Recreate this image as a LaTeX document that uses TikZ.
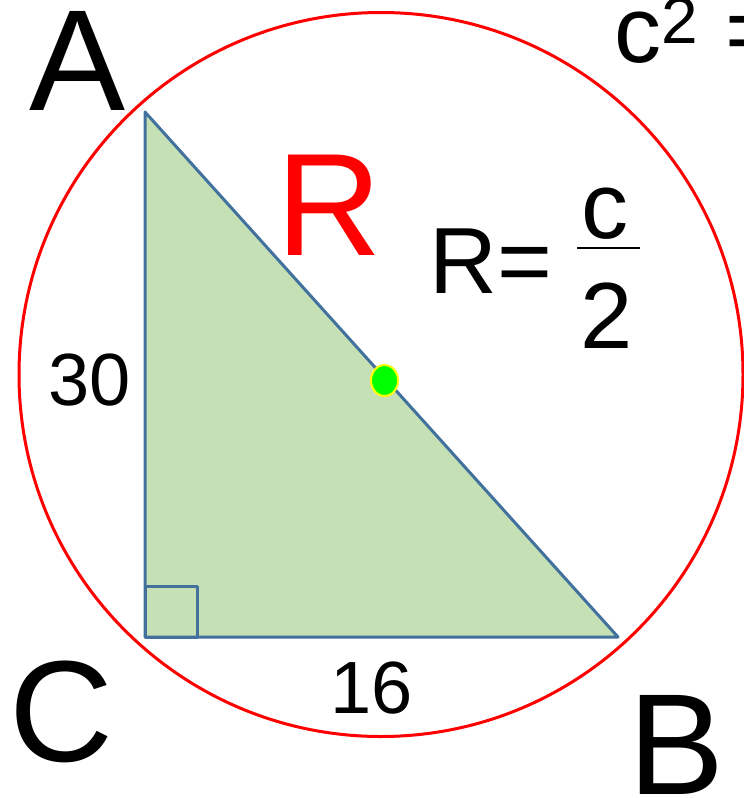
\documentclass[tikz,border=0pt]{standalone}
\usepackage{fontspec}
\setmainfont{Liberation Sans}
\usepackage{xcolor}
\usetikzlibrary{positioning}
\definecolor{circlered}{HTML}{FF0000}
\definecolor{triblue}{HTML}{41719C}
\definecolor{trigreen}{HTML}{C5E0B4}
\definecolor{dotgreen}{HTML}{00FF00}
\definecolor{dotyellow}{HTML}{FFFF00}

\begin{document}
\begin{tikzpicture}[
    x=0.5pt, y=-0.5pt,
    vertex/.style={inner sep=0pt, font=\fontsize{72}{72}\selectfont},
    sidelabel/.style={inner sep=0pt, font=\fontsize{37}{37}\selectfont},
    formula/.style={inner sep=0pt, font=\fontsize{47}{47}\selectfont},
    edge/.style={draw=triblue, line width=1.5pt, line join=round}
]
\useasboundingbox (0,0) rectangle (744,798);

% circumcircle
\coordinate (center) at (381,374.5);
\draw[circlered, line width=1.5pt] (center) circle[radius=362];

% right triangle
\coordinate (ptA) at (145,112);
\coordinate (ptC) at (145,637);
\coordinate (ptB) at (618,637);
\filldraw[edge, fill=trigreen] (ptA) -- (ptB) -- (ptC) -- cycle;
\draw[edge] (145,586) rectangle (197,637);

% midpoint of the hypotenuse
\filldraw[fill=dotgreen, draw=dotyellow, line width=1pt] (384.5,380.5) ellipse[x radius=13.5, y radius=15.5];

% labels
\node[vertex] (lblA) at (78,61) {A};
\node[vertex] (lblC) at (61,712) {C};
\node[vertex] (lblB) at (677,745) {B};
\node[vertex, text=circlered, font=\fontsize{73}{73}\selectfont] (lblR) at (329,205) {R};
\node[sidelabel] (side30) at (90,380) {30};
\node[sidelabel] (side16) at (372,688) {16};

% R = c/2
\node[formula] (req) at (491,261) {R=};
\node[formula] (num) at (605,214) {c};
\node[formula] (den) at (607,316) {2};
\coordinate (barL) at (577,248);
\coordinate (barR) at (640,248);
\draw[line width=0.7pt] (barL) -- (barR);

% c^2 = (cut at the edge)
\node[formula, anchor=base west] (csq) at (614,62) {c\textsuperscript{2} =};
\end{tikzpicture}
\end{document}
